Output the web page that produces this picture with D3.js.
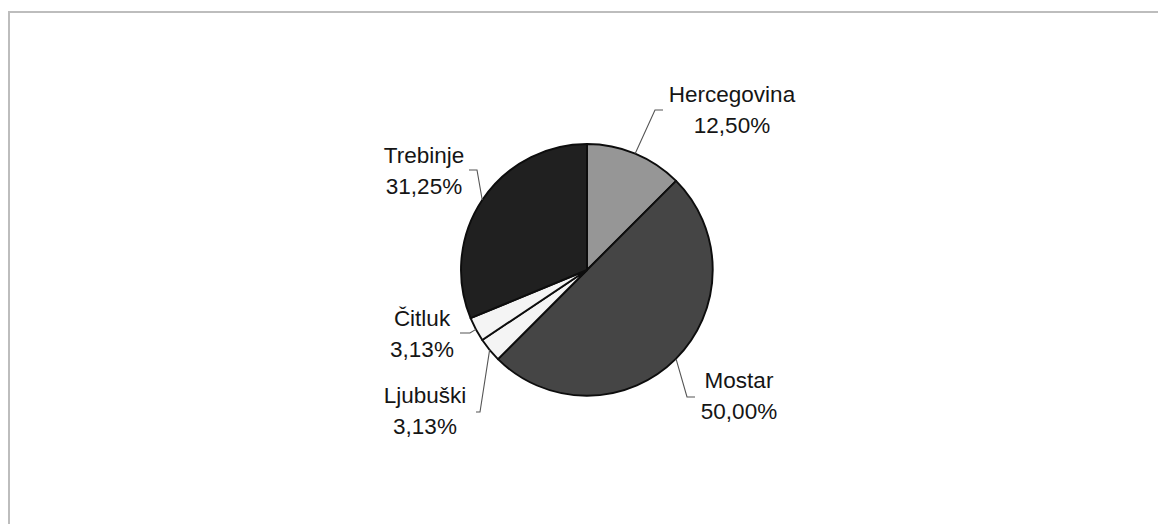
<!DOCTYPE html>
<html>
<head>
<meta charset="utf-8">
<script src="https://cdn.jsdelivr.net/npm/d3@7"></script>
<style>
  body { margin: 0; background: #fff; }
  .lbl { font-family: "Liberation Sans", Arial, sans-serif; font-size: 22.5px; fill: #151515; text-anchor: middle; }
</style>
</head>
<body>
<script>
// chart data
var names = ["Hercegovina", "Mostar", "Ljubuški", "Čitluk", "Trebinje"];
var values = [12.50, 50.00, 3.13, 3.13, 31.25];
var pctLabels = ["12,50%", "50,00%", "3,13%", "3,13%", "31,25%"];

// grey shades per slice
var shades = ["#969696", "#454545", "#f4f4f4", "#f4f4f4", "#202020"];

// label placement relative to pie centre: elbow, end of leader, text centre / first baseline
var labelLayout = [
  { elbow: [68, -160], end: [76, -160], text: [145, -168] },
  { elbow: [100, 127], end: [108, 127], text: [152, 118] },
  { elbow: [-107, 142], end: [-111, 142], text: [-162, 133] },
  { elbow: [-117, 63], end: [-127, 63], text: [-165, 56] },
  { elbow: [-110, -100], end: [-118, -100], text: [-163, -107] }
];

var width = 1158, height = 524;
var cx = 587, cy = 270, radius = 126;
var lineGap = 31;

var svg = d3.select("body")
            .append("svg")
            .attr("width", width)
            .attr("height", height);

// outer frame (only top and left edges visible)
svg.append("rect")
   .attr("x", 9)
   .attr("y", 12)
   .attr("width", width + 20)
   .attr("height", height + 20)
   .attr("fill", "none")
   .attr("stroke", "#bdbdbd")
   .attr("stroke-width", 2);

var pie = d3.pie()
            .sort(null)
            .value(function(d) { return d; });

var arc = d3.arc()
            .innerRadius(0)
            .outerRadius(radius);

var g = svg.append("g")
           .attr("transform", "translate(" + cx + "," + cy + ")");

var arcs = pie(values);

// slices
g.selectAll("path.slice")
 .data(arcs)
 .enter()
 .append("path")
 .attr("class", "slice")
 .attr("d", arc)
 .attr("fill", function(d, i) { return shades[i]; })
 .attr("stroke", "#0d0d0d")
 .attr("stroke-width", 1.9)
 .attr("stroke-linejoin", "round");

// leader lines
g.selectAll("polyline.leader")
 .data(arcs)
 .enter()
 .append("polyline")
 .attr("class", "leader")
 .attr("fill", "none")
 .attr("stroke", "#555")
 .attr("stroke-width", 1.1)
 .attr("points", function(d, i) {
   var a = (d.startAngle + d.endAngle) / 2;
   var edge = [Math.sin(a) * radius, -Math.cos(a) * radius];
   var L = labelLayout[i];
   return [edge, L.elbow, L.end].map(function(p) { return p.join(","); }).join(" ");
 });

// labels: name and percentage
var labels = g.selectAll("text.lbl")
              .data(arcs)
              .enter()
              .append("text")
              .attr("class", "lbl")
              .attr("x", function(d, i) { return labelLayout[i].text[0]; })
              .attr("y", function(d, i) { return labelLayout[i].text[1]; });

labels.append("tspan")
      .attr("x", function(d, i) { return labelLayout[i].text[0]; })
      .text(function(d, i) { return names[i]; });

labels.append("tspan")
      .attr("x", function(d, i) { return labelLayout[i].text[0]; })
      .attr("dy", lineGap)
      .text(function(d, i) { return pctLabels[i]; });
</script>
</body>
</html>
